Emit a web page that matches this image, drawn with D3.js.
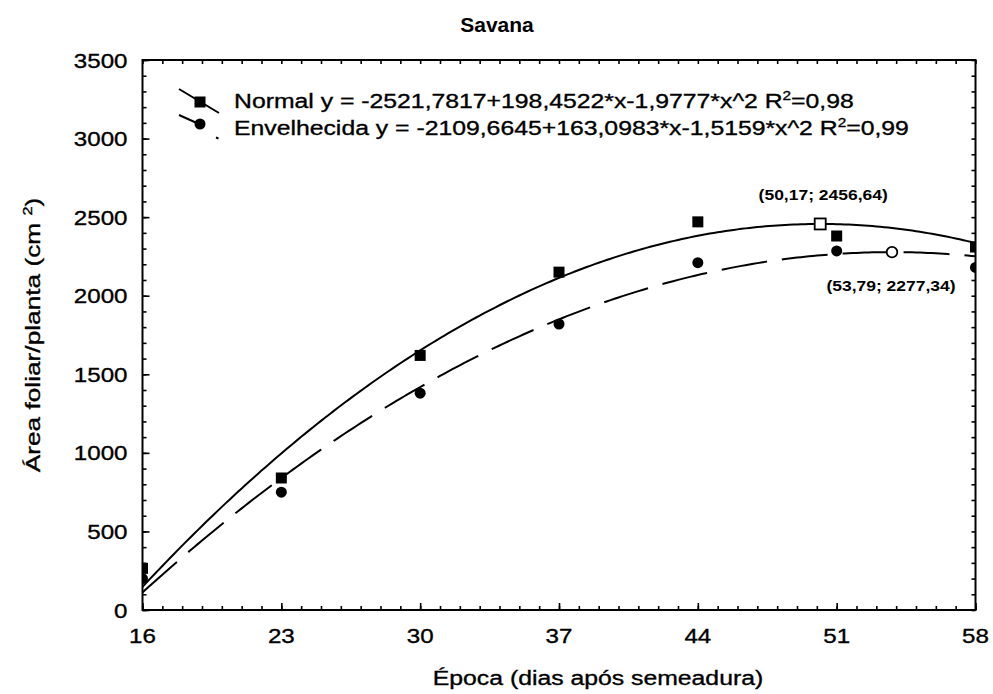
<!DOCTYPE html>
<html><head><meta charset="utf-8">
<script src="https://cdn.jsdelivr.net/npm/d3@7"></script>
<style>
body{margin:0;background:#fff}
text{font-family:"Liberation Sans",Arial,sans-serif;fill:#000}
.heavy{stroke:#000;stroke-width:0.35px}
</style>
</head><body>
<svg id="chart" width="993" height="694"></svg>
<script>
// Leaf area per plant, sampled every 7 days
const days = [16, 23, 30, 37, 44, 51, 58];
const normalArea = [265, 840, 1620, 2150, 2470, 2380, 2310];
const agedArea = [200, 750, 1380, 1820, 2210, 2285, 2180];

// Quadratic fits  y = a + b*x + c*x^2
const normalFit = [-2521.7817, 198.4522, -1.9777];
const agedFit = [-2109.6645, 163.0983, -1.5159];

// Vertices of the fitted curves
const normalPeak = [50.17, 2456.64];
const agedPeak = [53.79, 2277.34];
const peakLabels = ["(50,17; 2456,64)", "(53,79; 2277,34)"];

const xTicks = [16, 23, 30, 37, 44, 51, 58];
const yTicks = [0, 500, 1000, 1500, 2000, 2500, 3000, 3500];

const legendNames = ["Normal", "Envelhecida"];
const legendEquations = ["y = -2521,7817+198,4522*x-1,9777*x^2", "y = -2109,6645+163,0983*x-1,5159*x^2"];
const legendR2 = ["0,98", "0,99"];

const svg = d3.select("#chart");
const L = 142.5, R = 975.5, T = 60, B = 610;
const x = d3.scaleLinear([16, 58], [L, R]);
const y = d3.scaleLinear([0, 3500], [B, T]);
const SX = 1.15; // horizontal widening of the lettering

function wideText(g, px, py, str, size, anchor, weight, sx) {
  const s = sx || SX;
  return g.append("text")
    .attr("class", weight === "bold" ? null : "heavy")
    .attr("transform", `translate(${px},${py}) scale(${s},1)`)
    .attr("text-anchor", anchor || "start")
    .attr("font-size", size)
    .attr("font-weight", weight || "normal")
    .text(str);
}

// minor and major ticks on all four sides, pointing inward
const tickG = svg.append("g");
const minorX = d3.range(16, 59, 1), minorY = d3.range(0, 3501, 100);
tickG.append("g").attr("transform", `translate(0,${B})`)
  .call(d3.axisBottom(x).tickValues(minorX).tickSize(-4).tickFormat(""));
tickG.append("g").attr("transform", `translate(0,${T})`)
  .call(d3.axisTop(x).tickValues(minorX).tickSize(-4).tickFormat(""));
tickG.append("g").attr("transform", `translate(${L},0)`)
  .call(d3.axisLeft(y).tickValues(minorY).tickSize(-4).tickFormat(""));
tickG.append("g").attr("transform", `translate(${R},0)`)
  .call(d3.axisRight(y).tickValues(minorY).tickSize(-4).tickFormat(""));
tickG.append("g").attr("transform", `translate(0,${B})`)
  .call(d3.axisBottom(x).tickValues(xTicks).tickSize(-7).tickFormat(""));
tickG.append("g").attr("transform", `translate(${L},0)`)
  .call(d3.axisLeft(y).tickValues(yTicks).tickSize(-7).tickFormat(""));
tickG.selectAll(".domain").remove();
tickG.selectAll("line").attr("stroke", "#000").attr("stroke-width", 1.6);

// tick labels
const labG = svg.append("g");
xTicks.forEach(t => wideText(labG, x(t), B + 33, t, 21, "middle"));
yTicks.forEach(t => wideText(labG, L - 15, y(t) + 7.5, t, 21, "end"));

// fitted curves
const poly = c => v => c[0] + c[1] * v + c[2] * v * v;
const grid = d3.range(16, 58.001, 0.2);
svg.append("clipPath").attr("id", "plotClip")
  .append("rect").attr("x", L).attr("y", T).attr("width", R - L).attr("height", B - T);
const line = f => d3.line().x(d => x(d)).y(d => y(f(d)))(grid);
const plot = svg.append("g").attr("clip-path", "url(#plotClip)");
plot.append("path").attr("d", line(poly(normalFit)))
  .attr("fill", "none").attr("stroke", "#000").attr("stroke-width", 2);
plot.append("path").attr("d", line(poly(agedFit)))
  .attr("fill", "none").attr("stroke", "#000").attr("stroke-width", 2)
  .attr("stroke-dasharray", "46,15");

// observed points (clipped to the plotting area like the curves)
const S = 11;
plot.append("g").selectAll("rect").data(days).join("rect")
  .attr("x", (d) => x(d) - S / 2).attr("y", (d, i) => y(normalArea[i]) - S / 2)
  .attr("width", S).attr("height", S).attr("fill", "#000");
plot.append("g").selectAll("circle").data(days).join("circle")
  .attr("cx", d => x(d)).attr("cy", (d, i) => y(agedArea[i])).attr("r", 5.5).attr("fill", "#000");

// vertices (open markers)
svg.append("rect").attr("x", x(normalPeak[0]) - S / 2).attr("y", y(normalPeak[1]) - S / 2)
  .attr("width", S).attr("height", S).attr("fill", "#fff").attr("stroke", "#000").attr("stroke-width", 1.8);
svg.append("circle").attr("cx", x(agedPeak[0])).attr("cy", y(agedPeak[1])).attr("r", 5.3)
  .attr("fill", "#fff").attr("stroke", "#000").attr("stroke-width", 1.8);
wideText(svg, x(normalPeak[0]) + 3, y(normalPeak[1]) - 24, peakLabels[0], 14, "middle", "bold", 1.25);
wideText(svg, x(agedPeak[0]) - 1, y(agedPeak[1]) + 39, peakLabels[1], 14, "middle", "bold", 1.25);

// frame
svg.append("rect").attr("x", L).attr("y", T).attr("width", R - L).attr("height", B - T)
  .attr("fill", "none").attr("stroke", "#000").attr("stroke-width", 2);

// legend
const lg = svg.append("g");
lg.append("line").attr("x1", 179).attr("y1", 89).attr("x2", 219).attr("y2", 113)
  .attr("stroke", "#000").attr("stroke-width", 2);
lg.append("rect").attr("x", 200 - S / 2).attr("y", 102 - S / 2).attr("width", S).attr("height", S).attr("fill", "#000");
lg.append("line").attr("x1", 179).attr("y1", 115).attr("x2", 199).attr("y2", 124)
  .attr("stroke", "#000").attr("stroke-width", 2);
lg.append("line").attr("x1", 216).attr("y1", 137.5).attr("x2", 218.5).attr("y2", 138.5)
  .attr("stroke", "#000").attr("stroke-width", 2);
lg.append("circle").attr("cx", 200).attr("cy", 124).attr("r", 5.5).attr("fill", "#000");
[0, 1].forEach(i => {
  const t = lg.append("text").attr("class", "heavy")
    .attr("transform", `translate(234,${108 + i * 27}) scale(1.18,1)`)
    .attr("font-size", 21);
  t.append("tspan").text(`${legendNames[i]} ${legendEquations[i]} R`);
  t.append("tspan").attr("font-size", 13).attr("dy", -8).text("2");
  t.append("tspan").attr("dy", 8).text(`=${legendR2[i]}`);
});

// titles
wideText(svg, 497, 32, "Savana", 20, "middle", "bold", 1.05);
wideText(svg, 598, 685, "Época (dias após semeadura)", 21, "middle", null, 1.18);
const yt = svg.append("text").attr("class", "heavy")
  .attr("transform", `translate(40,${(T + B) / 2}) rotate(-90) scale(1.25,1)`)
  .attr("text-anchor", "middle").attr("font-size", 21);
yt.append("tspan").text("Área foliar/planta (cm ");
yt.append("tspan").attr("font-size", 13).attr("dy", -8).text("2");
yt.append("tspan").attr("dy", 8).text(")");
</script>
</body></html>
